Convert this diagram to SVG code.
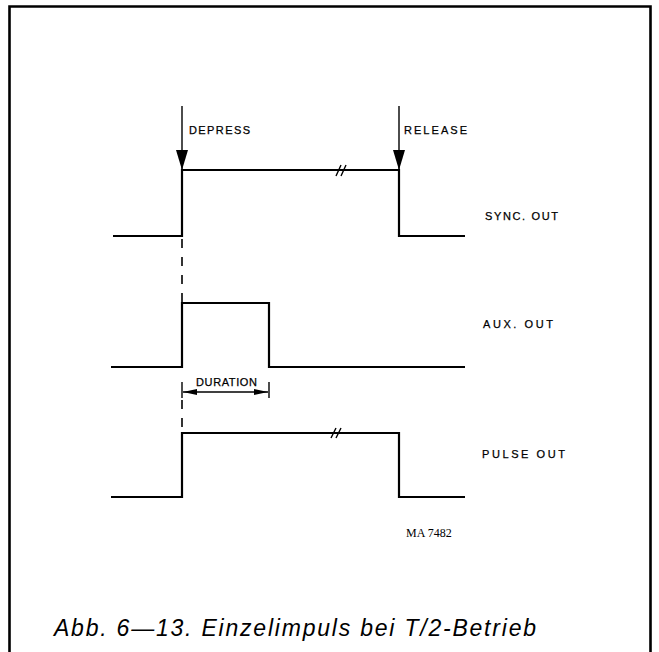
<svg xmlns="http://www.w3.org/2000/svg" width="659" height="652" viewBox="0 0 659 652">
<style>
.sig{fill:none;stroke:#000;stroke-width:2.2;stroke-linejoin:miter}
.thin{fill:none;stroke:#000;stroke-width:1.4}
.dash{fill:none;stroke:#000;stroke-width:1.6;stroke-dasharray:9 9}
.lbl{font-family:"Liberation Sans",Arial,sans-serif;font-size:11px;fill:#000;stroke:#000;stroke-width:0.25}
.cap{font-family:"Liberation Sans",Arial,sans-serif;font-style:italic;font-size:23px;fill:#000}
.id{font-family:"Liberation Serif","Times New Roman",serif;font-size:12px;fill:#000}
</style>
<defs>
<marker id="down" viewBox="0 0 20 12" refX="20" refY="6" markerWidth="20" markerHeight="12" markerUnits="userSpaceOnUse" orient="auto">
<path d="M0,0 L20,6 L0,12 Z" fill="#000"/>
</marker>
<marker id="dim" viewBox="0 0 14 6" refX="14" refY="3" markerWidth="14" markerHeight="6" markerUnits="userSpaceOnUse" orient="auto">
<path d="M0,0 L14,3 L0,6 Z" fill="#000"/>
</marker>
</defs>
<rect width="659" height="652" fill="#fff"/>
<path d="M9.5,655 V6.5 H650.5 V655" fill="none" stroke="#000" stroke-width="2.6"/>

<g id="sync-out">
<path class="sig" d="M113,236 H182 V170 H399 V236 H465"/>
<path class="thin" d="M336,176 L341,165 M341,176 L346,165"/>
<text class="lbl" x="485" y="220" textLength="73" lengthAdjust="spacing">SYNC. OUT</text>
</g>
<g id="aux-out">
<path class="sig" d="M111,367 H182 V303 H269 V367 H465"/>
<text class="lbl" x="483" y="328" textLength="70" lengthAdjust="spacing">AUX. OUT</text>
</g>
<g id="pulse-out">
<path class="sig" d="M111,497 H182 V433 H399 V497 H465"/>
<path class="thin" d="M331,438 L336,428 M336,438 L341,428"/>
<text class="lbl" x="482" y="458" textLength="83" lengthAdjust="spacing">PULSE OUT</text>
</g>
<g id="depress">
<text class="lbl" x="189" y="134" textLength="61" lengthAdjust="spacing">DEPRESS</text>
</g>
<g id="release">
<text class="lbl" x="404" y="134" textLength="63" lengthAdjust="spacing">RELEASE</text>
</g>
<g id="duration">
<text class="lbl" x="196" y="386" textLength="61" lengthAdjust="spacing">DURATION</text>
</g>
<g id="connectors">
<line class="thin" x1="182" y1="106" x2="182" y2="170" marker-end="url(#down)"/>
<line class="thin" x1="399" y1="106" x2="399" y2="170" marker-end="url(#down)"/>
<line class="dash" x1="182" y1="239" x2="182" y2="303"/>
<line class="dash" x1="182" y1="400" x2="182" y2="433"/>
<line class="thin" x1="182" y1="382" x2="182" y2="398"/>
<line class="thin" x1="269" y1="382" x2="269" y2="398"/>
<line class="thin" x1="225" y1="392" x2="183" y2="392" marker-end="url(#dim)"/>
<line class="thin" x1="225" y1="392" x2="268" y2="392" marker-end="url(#dim)"/>
</g>
<text class="id" x="406" y="537">MA 7482</text>
<text class="cap" x="54" y="636" textLength="482" lengthAdjust="spacing">Abb. 6—13. Einzelimpuls bei T/2-Betrieb</text>
</svg>
